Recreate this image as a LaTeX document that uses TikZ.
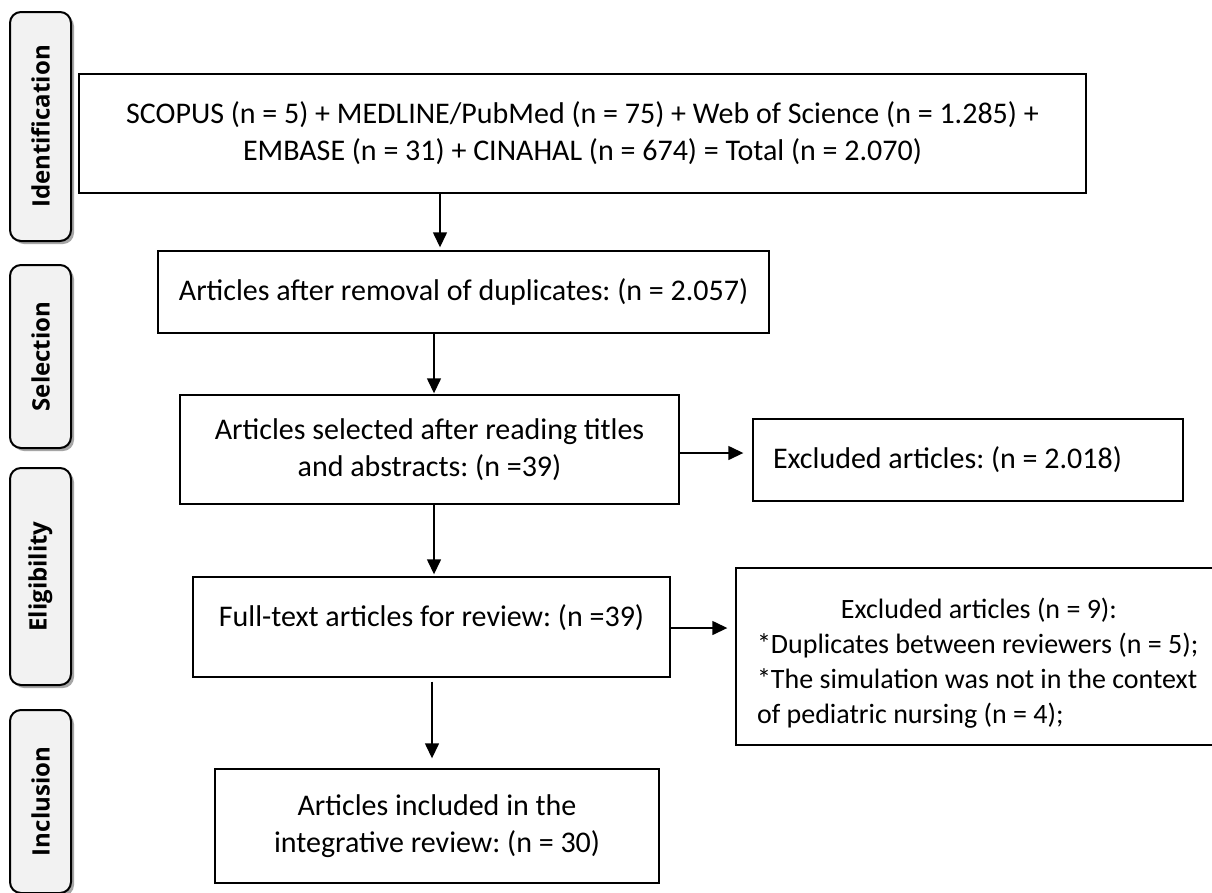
\documentclass[tikz,border=0pt]{standalone}
\usepackage{fontspec}
\setmainfont{Carlito}
\newfontfamily\labfont{Open Sans}
\usetikzlibrary{arrows.meta,shadows}
\definecolor{sidegray}{HTML}{F2F2F2}
\frenchspacing
\begin{document}
\begin{tikzpicture}[x=1pt,y=-1pt,
  box/.style={draw=black, line width=1.4pt, fill=white, inner sep=0pt, align=center,
              font=\fontsize{30}{37}\selectfont},
  sidebox/.style={draw=black, line width=2pt, fill=sidegray, rounded corners=11pt, inner sep=0pt,
              font=\labfont\bfseries\fontsize{24}{28}\selectfont,
              drop shadow={shadow xshift=3pt, shadow yshift=-3pt, fill=black!35, opacity=1}},
  arr/.style={line width=1.4pt, -{Triangle[length=15pt,width=14pt]}}]
\clip (0,0) rectangle (1212,892);
\fill[white] (0,0) rectangle (1212,892);

% side phase labels
\node[sidebox, minimum width=61pt, minimum height=229pt] (s1) at (40.5,126.5) {\rotatebox{90}{Identification}};
\node[sidebox, minimum width=61pt, minimum height=183pt] (s2) at (40.5,356.5) {\rotatebox{90}{Selection}};
\node[sidebox, minimum width=61pt, minimum height=217pt] (s3) at (40.5,576.5) {\rotatebox{90}{Eligibility}};
\node[sidebox, minimum width=61pt, minimum height=183pt] (s4) at (40.5,801.5) {\rotatebox{90}{Inclusion}};

% main boxes
\node[box, minimum width=1007pt, minimum height=119pt] (b1) at (582.5,133.5)
  {SCOPUS (n = 5) + MEDLINE/PubMed (n = 75) + Web of Science (n = 1.285) +\\EMBASE (n = 31) + CINAHAL (n = 674) = Total (n = 2.070)};
\node[box, minimum width=611pt, minimum height=82pt] (b2) at (463.5,292)
  {Articles after removal of duplicates: (n = 2.057)};
\node[box, minimum width=499pt, minimum height=109pt] (b3) at (429.5,449.5)
  {Articles selected after reading titles\\and abstracts: (n =39)};
\node[box, minimum width=430pt, minimum height=82pt] (e1) at (968,460)
  {\makebox[390pt][l]{Excluded articles: (n = 2.018)}};
\node[box, minimum width=477pt, minimum height=100pt, text depth=23pt] (b4) at (431.5,627)
  {Full-text articles for review: (n =39)};
\node[box, minimum width=494pt, minimum height=177pt] (e2) at (983,656.5) {};
\node[align=left, inner sep=0pt, font=\fontsize{28}{35}\selectfont] (e2t) at (979,663)
  {\makebox[444pt][c]{Excluded articles (n = 9):}\\
   {}*Duplicates between reviewers (n = 5);\\
   {}*The simulation was not in the context\\
   {}of pediatric nursing (n = 4);};
\node[box, minimum width=444pt, minimum height=114pt] (b5) at (437,826)
  {Articles included in the\\integrative review: (n = 30)};

% connector columns / rows
\coordinate (x1) at (440,0);
\coordinate (x2) at (434,0);
\coordinate (x3) at (432,0);
\coordinate (y1) at (0,453);
\coordinate (y2) at (0,628);

\draw[arr, shorten >=3pt] (b1.south -| x1) -- (b2.north -| x1);
\draw[arr, shorten >=1pt] (b2.south -| x2) -- (b3.north -| x2);
\draw[arr, shorten >=9pt] (b3.east |- y1) -- (e1.west |- y1);
\draw[arr, shorten >=2pt] (b3.south -| x2) -- (b4.north -| x2);
\draw[arr, shorten >=8pt] (b4.east |- y2) -- (e2.west |- y2);
\draw[arr, shorten <=4pt, shorten >=10pt] (b4.south -| x3) -- (b5.north -| x3);
\end{tikzpicture}
\end{document}
